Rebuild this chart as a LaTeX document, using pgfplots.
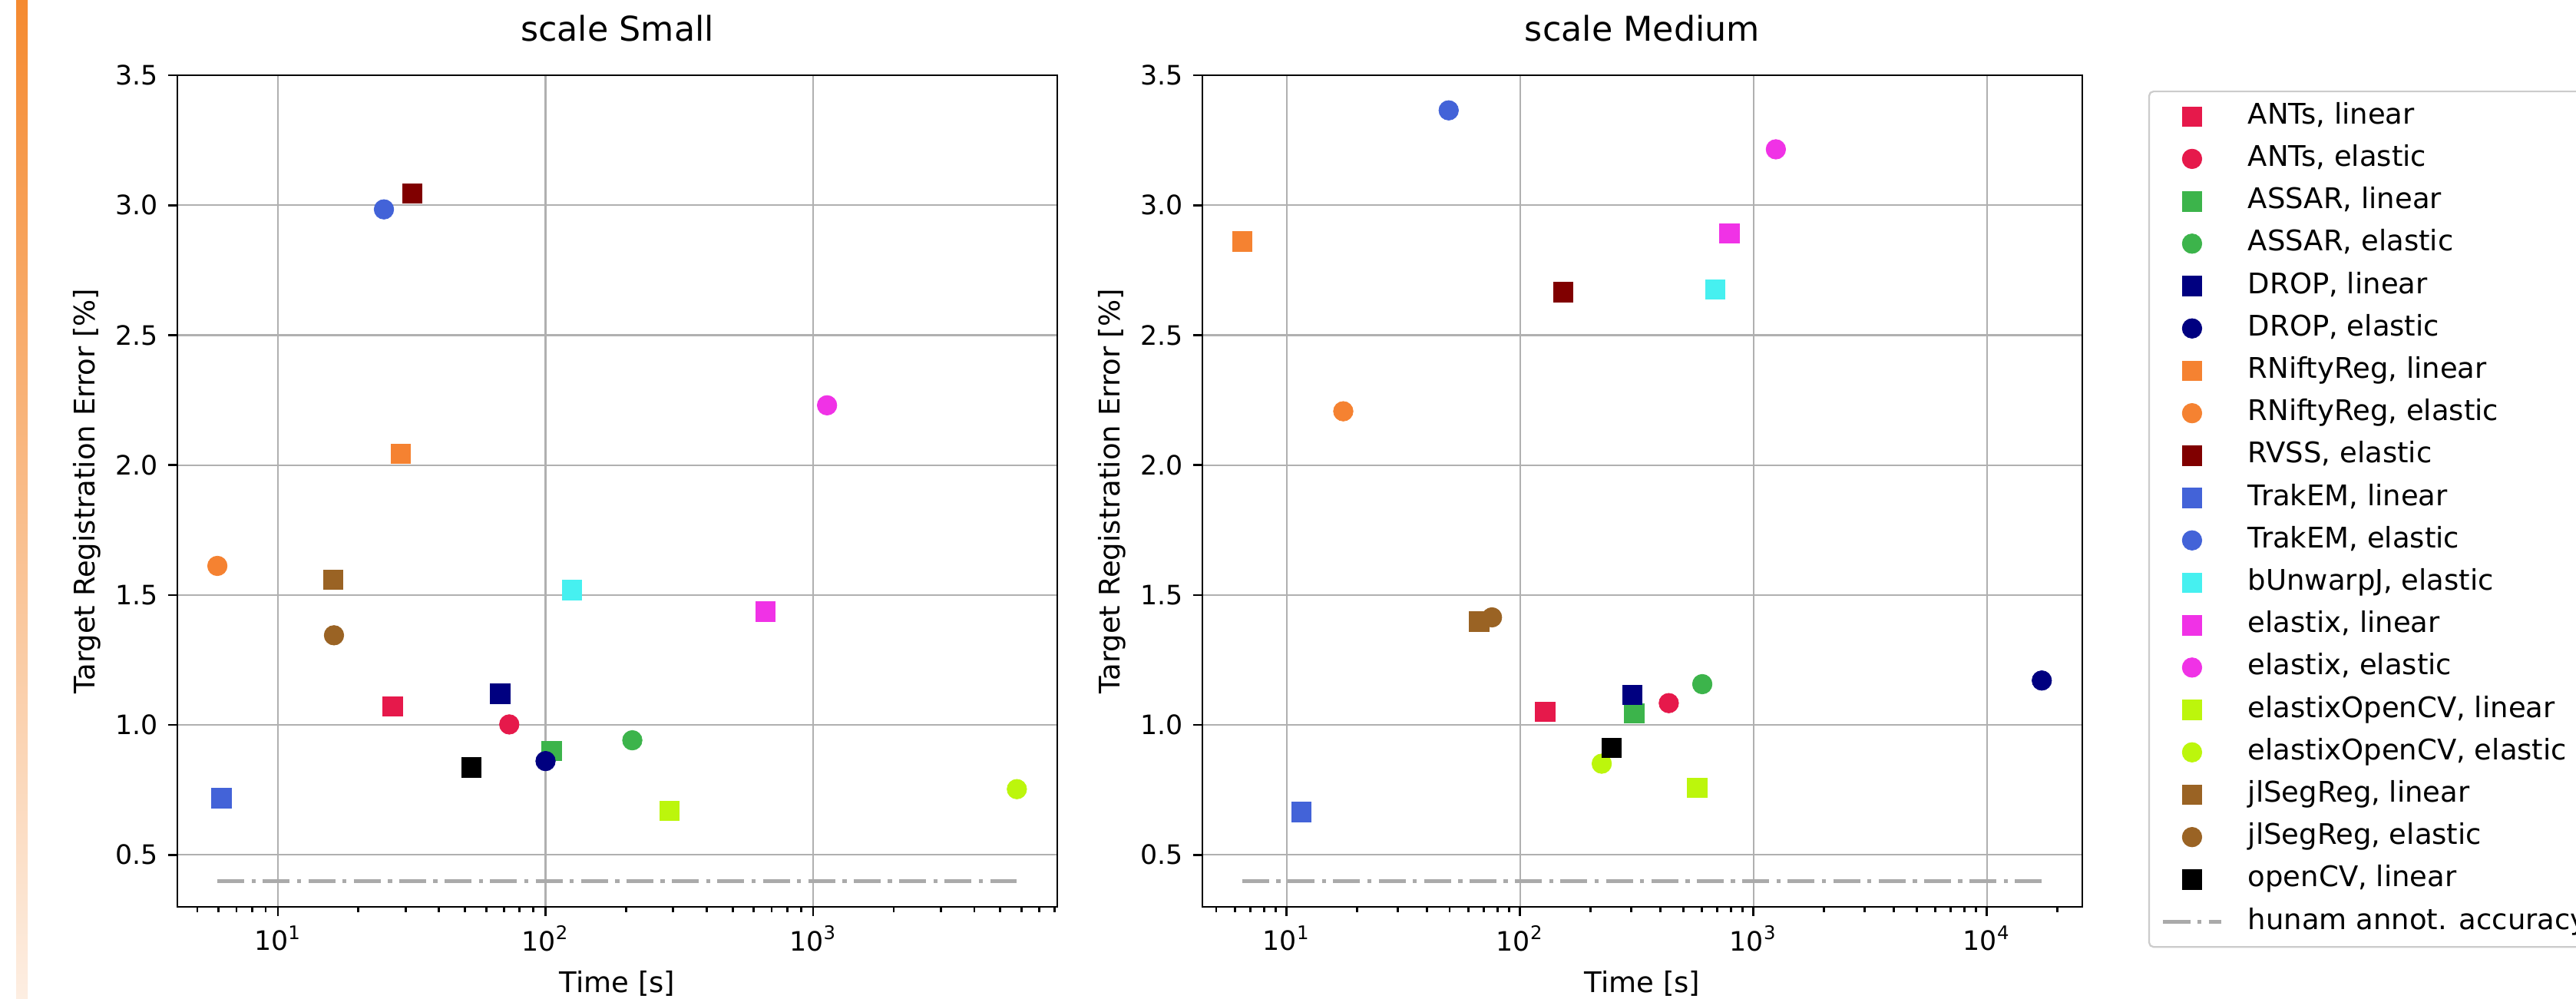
\documentclass[border=0pt]{standalone}
\usepackage{fontspec}
\setmainfont{DejaVu Sans}
\usepackage{pgfplots}
\pgfplotsset{compat=1.18}

\definecolor{antsc}{HTML}{E6194B}
\definecolor{assarc}{HTML}{3CB44B}
\definecolor{dropc}{HTML}{000080}
\definecolor{niftyc}{HTML}{F58231}
\definecolor{rvssc}{HTML}{800000}
\definecolor{trakc}{HTML}{4363D8}
\definecolor{bunwc}{HTML}{46F0F0}
\definecolor{elastixc}{HTML}{F032E6}
\definecolor{eocvc}{HTML}{BCF60C}
\definecolor{jlc}{HTML}{9A6324}
\definecolor{humanc}{HTML}{AAAAAA}
\definecolor{gridc}{HTML}{B0B0B0}
\definecolor{bartop}{HTML}{F58A30}
\definecolor{barbot}{HTML}{FDEEE2}

\pgfplotsset{
  legend image code/.code={%
    \path[draw=none, fill=none] (0pt,-3pt) rectangle (20.3pt,3pt);
    \draw[mark repeat=2, mark phase=2, #1] plot coordinates {(0pt,0pt) (10.15pt,0pt) (20.3pt,0pt)};},
}
\pgfplotsset{
  lin/.style={only marks, mark=square*, mark size=3.45pt, color=#1, mark options={line width=0.2pt}},
  ela/.style={only marks, mark=*, mark size=3.45pt, color=#1, mark options={line width=0.2pt}},
  human/.style={color=humanc, line width=1.3pt, dash pattern=on 9.5pt off 2.5pt on 1.5pt off 2.5pt},
  regax/.style={
    scale only axis, width=309.73pt, height=292.70pt,
    ymin=0.3, ymax=3.5,
    ytick={0.5,1.0,1.5,2.0,2.5,3.0,3.5},
    yticklabel style={/pgf/number format/.cd, fixed, fixed zerofill, precision=1, assume math mode=true},
    tick label style={font=\fontsize{9.4}{11}\selectfont},
    grid=major, major grid style={color=gridc, line width=0.6pt},
    axis line style={line width=0.75pt},
    tick align=outside, tick pos=left,
    major tick length=3.2pt, minor tick length=1.8pt,
    every tick/.style={black, line width=0.75pt},
    title style={font=\fontsize{12}{14}\selectfont, at={(axis description cs:0.5,1)}, anchor=base, yshift=5.95pt, inner sep=0pt},
    xlabel={Time [s]},
    xlabel style={font=\fontsize{10}{12}\selectfont, at={(axis description cs:0.5,0)}, anchor=base, yshift=-30pt, inner sep=0pt},
    ylabel={Target Registration Error [\%]},
    ylabel style={font=\fontsize{10}{12}\selectfont, at={(axis description cs:-0.1187,0.5)}, anchor=north, inner sep=0pt},
  }
}

\begin{document}
\begin{tikzpicture}
\useasboundingbox (0,0) rectangle (906.76pt,351.35pt);
\fill[white] (0,0) rectangle (906.76pt,351.35pt);
\shade[top color=bartop, bottom color=barbot] (5.68pt,0) rectangle (9.73pt,351.35pt);

% scale Small
\begin{axis}[xmode=log, regax, at={(62.43pt,32.16pt)}, anchor=south west,
  title={scale Small},
  xmin=4.21, xmax=8170,
  xtick={10,100,1000}, xticklabels={10\textsuperscript{1},10\textsuperscript{2},10\textsuperscript{3}},
  minor xtick={5,6,7,8,9,20,30,40,50,60,70,80,90,200,300,400,500,600,700,800,900,2000,3000,4000,5000,6000,7000,8000},
]
\addplot[lin=antsc] coordinates {(26.8,1.071)};
\addplot[ela=antsc] coordinates {(73.2,1.002)};
\addplot[lin=assarc] coordinates {(105.4,0.900)};
\addplot[ela=assarc] coordinates {(211,0.941)};
\addplot[lin=dropc] coordinates {(67.6,1.120)};
\addplot[ela=dropc] coordinates {(100,0.861)};
\addplot[lin=niftyc] coordinates {(28.8,2.044)};
\addplot[ela=niftyc] coordinates {(5.94,1.612)};
\addplot[lin=rvssc] coordinates {(31.8,3.045)};
\addplot[lin=trakc] coordinates {(6.14,0.719)};
\addplot[ela=trakc] coordinates {(24.9,2.984)};
\addplot[lin=bunwc] coordinates {(125.6,1.520)};
\addplot[lin=elastixc] coordinates {(663,1.436)};
\addplot[ela=elastixc] coordinates {(1127,2.230)};
\addplot[lin=eocvc] coordinates {(290,0.670)};
\addplot[ela=eocvc] coordinates {(5770,0.753)};
\addplot[lin=jlc] coordinates {(16.1,1.559)};
\addplot[ela=jlc] coordinates {(16.2,1.345)};
\addplot[lin=black] coordinates {(52.8,0.837)};
\addplot[human] coordinates {(5.94,0.4) (5770,0.4)};
\end{axis}

% scale Medium
\begin{axis}[xmode=log, regax, at={(423.24pt,32.16pt)}, anchor=south west,
  title={scale Medium},
  xmin=4.36, xmax=25650,
  xtick={10,100,1000,10000}, xticklabels={10\textsuperscript{1},10\textsuperscript{2},10\textsuperscript{3},10\textsuperscript{4}},
  minor xtick={5,6,7,8,9,20,30,40,50,60,70,80,90,200,300,400,500,600,700,800,900,2000,3000,4000,5000,6000,7000,8000,9000,20000},
  legend cell align=left,
  legend style={at={(1.075,0.98153)}, anchor=north west,
    font=\fontsize{10}{12}\selectfont,
    draw=gray!40, line width=0.6pt, rounded corners=1.5pt, fill=white,
    inner xsep=4.3pt, inner ysep=3.8pt, row sep=4.92pt, column sep=8.9pt,
    nodes={inner sep=0pt, text height=7.6pt, text depth=2.4pt}},
]
\addplot[lin=antsc] coordinates {(128,1.051)};
\addlegendentry{ANTs, linear}
\addplot[ela=antsc] coordinates {(434,1.084)};
\addlegendentry{ANTs, elastic}
\addplot[lin=assarc] coordinates {(309,1.045)};
\addlegendentry{ASSAR, linear}
\addplot[ela=assarc] coordinates {(604,1.157)};
\addlegendentry{ASSAR, elastic}
\addplot[lin=dropc] coordinates {(303,1.116)};
\addlegendentry{DROP, linear}
\addplot[ela=dropc] coordinates {(17200,1.171)};
\addlegendentry{DROP, elastic}
\addplot[lin=niftyc] coordinates {(6.46,2.860)};
\addlegendentry{RNiftyReg, linear}
\addplot[ela=niftyc] coordinates {(17.5,2.207)};
\addlegendentry{RNiftyReg, elastic}
\addplot[lin=rvssc] coordinates {(153,2.666)};
\addlegendentry{RVSS, elastic}
\addplot[lin=trakc] coordinates {(11.55,0.666)};
\addlegendentry{TrakEM, linear}
\addplot[ela=trakc] coordinates {(49.5,3.365)};
\addlegendentry{TrakEM, elastic}
\addplot[lin=bunwc] coordinates {(687,2.676)};
\addlegendentry{bUnwarpJ, elastic}
\addplot[lin=elastixc] coordinates {(789,2.892)};
\addlegendentry{elastix, linear}
\addplot[ela=elastixc] coordinates {(1248,3.215)};
\addlegendentry{elastix, elastic}
\addplot[lin=eocvc] coordinates {(575,0.759)};
\addlegendentry{elastixOpenCV, linear}
\addplot[ela=eocvc] coordinates {(224,0.851)};
\addlegendentry{elastixOpenCV, elastic}
\addplot[lin=jlc] coordinates {(66.8,1.398)};
\addlegendentry{jlSegReg, linear}
\addplot[ela=jlc] coordinates {(75.9,1.414)};
\addlegendentry{jlSegReg, elastic}
\addplot[lin=black] coordinates {(246.6,0.912)};
\addlegendentry{openCV, linear}
\addplot[human] coordinates {(6.46,0.4) (17200,0.4)};
\addlegendentry{hunam annot. accuracy}
\end{axis}
\end{tikzpicture}
\end{document}
